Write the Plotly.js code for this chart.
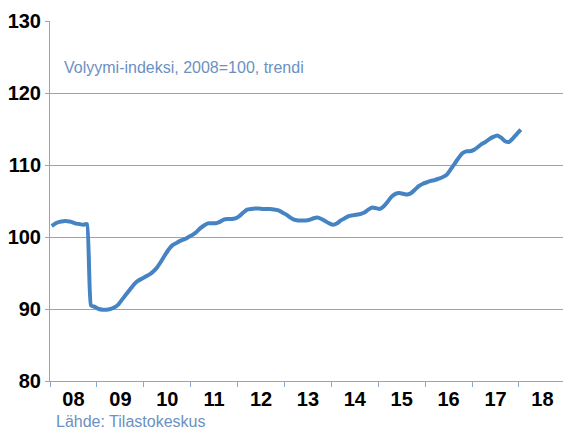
<!DOCTYPE html>
<html>
<head>
<meta charset="utf-8">
<script src="https://cdn.plot.ly/plotly-3.0.1.min.js"></script>
<style>html,body{margin:0;padding:0;background:#fff;}#chart{width:563px;height:432px;}</style>
</head>
<body>
<div id="chart"></div>
<script>
// Monthly volume index (2008=100, trend), Jan 2008 .. Jan 2018
var startYear = 2008;
var v2008 = [101.5, 101.9, 102.1, 102.2, 102.2, 102.1, 101.9, 101.8, 101.7, 101.8, 90.5, 90.3];
var v2009 = [90.0, 89.9, 89.9, 90.0, 90.2, 90.6, 91.3, 92.0, 92.7, 93.4, 93.9, 94.2];
var v2010 = [94.5, 94.8, 95.2, 95.8, 96.6, 97.5, 98.3, 98.9, 99.2, 99.5, 99.7, 100.0];
var v2011 = [100.3, 100.7, 101.2, 101.6, 101.9, 101.9, 101.9, 102.1, 102.4, 102.5, 102.5, 102.6];
var v2012 = [102.9, 103.4, 103.8, 103.9, 103.95, 103.95, 103.9, 103.9, 103.9, 103.8, 103.7, 103.4];
var v2013 = [103.1, 102.7, 102.4, 102.3, 102.3, 102.3, 102.4, 102.6, 102.7, 102.5, 102.2, 101.9];
var v2014 = [101.7, 101.9, 102.3, 102.6, 102.9, 103.0, 103.1, 103.2, 103.4, 103.8, 104.1, 104.0];
var v2015 = [103.9, 104.3, 104.9, 105.6, 106.0, 106.1, 106.0, 105.9, 106.1, 106.6, 107.1, 107.4];
var v2016 = [107.6, 107.8, 107.9, 108.1, 108.3, 108.6, 109.3, 110.1, 110.9, 111.6, 111.9, 111.9];
var v2017 = [112.1, 112.5, 112.9, 113.2, 113.6, 113.9, 114.1, 113.8, 113.3, 113.2, 113.7, 114.3];
var v2018 = [114.9];

var yearly = [v2008, v2009, v2010, v2011, v2012, v2013, v2014, v2015, v2016, v2017, v2018];
var yTicks = [80, 90, 100, 110, 120, 130];
var subtitle = 'Volyymi-indeksi, 2008=100, trendi';
var source = 'Lähde: Tilastokeskus';

var xs = [], ys = [];
yearly.forEach(function (arr, k) {
  arr.forEach(function (v, m) {
    var mm = (m + 1 < 10 ? '0' : '') + (m + 1);
    xs.push((startYear + k) + '-' + mm + '-15');
    ys.push(v);
  });
});

var gridC = '#8ba7c9';
var textC = '#6b90c2';
var fam = 'Liberation Sans, Arial, sans-serif';

var trace = {
  x: xs, y: ys, type: 'scatter', mode: 'lines',
  line: {color: '#4583c2', width: 4, shape: 'spline', smoothing: 0.4},
  hoverinfo: 'skip'
};

var layout = {
  width: 563, height: 432,
  margin: {l: 50, r: 0, t: 21, b: 51, pad: 0},
  paper_bgcolor: '#ffffff', plot_bgcolor: '#ffffff',
  showlegend: false,
  font: {family: fam},
  xaxis: {
    type: 'date',
    range: ['2008-01-01', '2018-12-10'],
    tick0: '2008-01-01', dtick: 'M12', tickformat: '%y',
    ticklabelmode: 'period',
    ticks: 'outside', ticklen: 5, tickwidth: 1, tickcolor: gridC,
    ticklabelstandoff: -5,
    showline: true, linecolor: gridC, linewidth: 1,
    showgrid: false, zeroline: false,
    tickfont: {family: fam, size: 20, color: '#000', weight: 'bold'}
  },
  yaxis: {
    range: [80, 130], tickvals: yTicks,
    ticks: 'outside', ticklen: 4, tickwidth: 1, tickcolor: gridC,
    showline: true, linecolor: gridC, linewidth: 1,
    showgrid: true, gridcolor: gridC, gridwidth: 1, zeroline: false,
    tickfont: {family: fam, size: 20, color: '#000', weight: 'bold'}
  },
  annotations: [
    {text: subtitle, xref: 'paper', yref: 'paper', x: 0.0234, y: 0.872,
     xanchor: 'left', yanchor: 'middle', showarrow: false,
     font: {family: fam, size: 16, color: textC}},
    {text: source, xref: 'paper', yref: 'paper', x: 0.0097, y: -0.112,
     xanchor: 'left', yanchor: 'middle', showarrow: false, borderpad: 0,
     font: {family: fam, size: 16, color: textC}}
  ]
};

Plotly.newPlot('chart', [trace], layout, {displayModeBar: false, staticPlot: true});
</script>
</body>
</html>
